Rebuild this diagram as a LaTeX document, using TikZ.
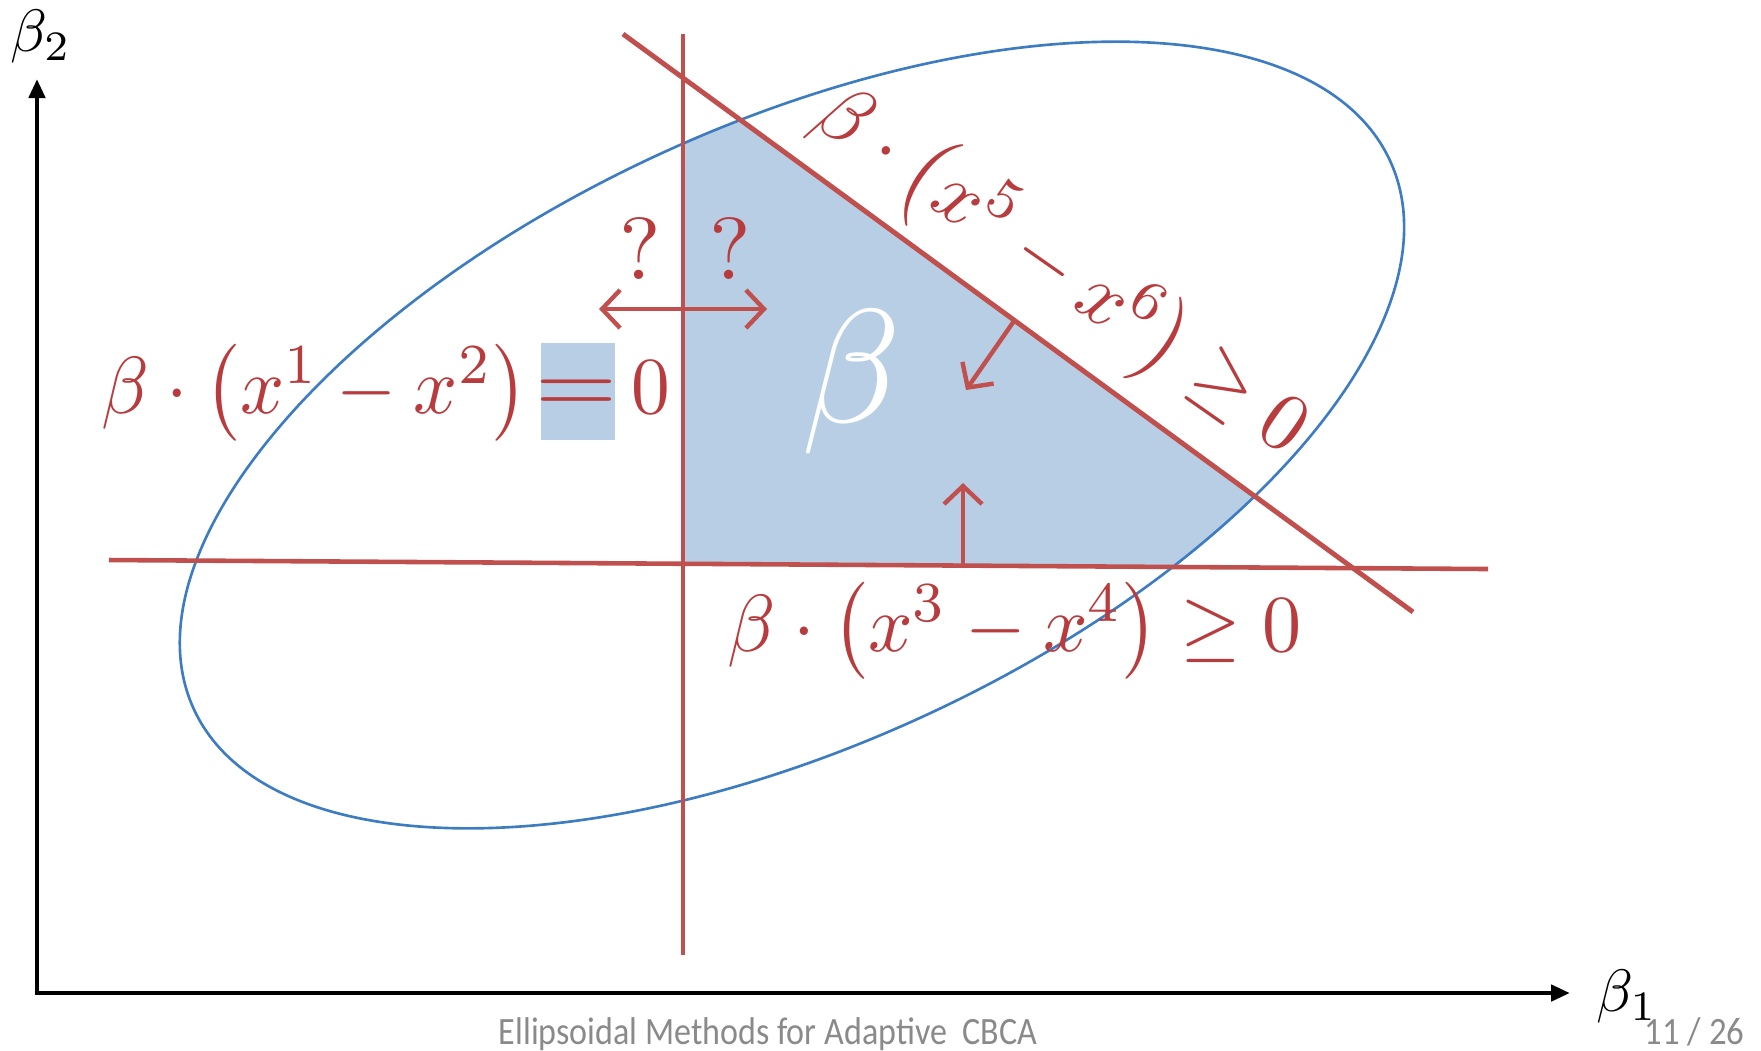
\documentclass[tikz,border=0pt]{standalone}
\usepackage{fontspec}
\usepackage{graphicx}
\newfontfamily\footfont{Carlito}
\usetikzlibrary{arrows.meta}
\definecolor{redline}{HTML}{C0504D}
\definecolor{redtext}{HTML}{B83B3D}
\definecolor{ellblue}{HTML}{3E7CC2}
\definecolor{regblue}{HTML}{B8CEE4}
\definecolor{footgray}{HTML}{8A8A8A}
\begin{document}
\begin{tikzpicture}[x=0.01cm,y=-0.01cm,
  redln/.style={draw=redline,line width=1.3pt},
  barb/.tip={Straight Barb[length=1.8mm,width=3.8mm]},
  redarrow/.style={draw=redline,line width=1.25pt,line cap=round,-barb},
  lbl/.style={text=redtext,inner sep=0pt},
]
\useasboundingbox (0,0) rectangle (1761,1050);

\coordinate (ec) at (792,435);
\coordinate (vTop) at (683,34);
\coordinate (vBot) at (683,955);
\coordinate (hL) at (109,560);
\coordinate (hR) at (1488,569);
\coordinate (dTop) at (623,34);
\coordinate (dBot) at (1413,612);
\coordinate (pA) at (683,563.7);
\coordinate (pB) at (683,77.9);
\coordinate (pC) at (1353,568.1);

% feasible region
\begin{scope}
\clip[rotate around={24.6:(ec)}] (ec) ellipse [x radius=658, y radius=310.5];
\fill[regblue] (pA) -- (pB) -- (pC) -- cycle;
\end{scope}

% ellipse
\draw[ellblue,line width=0.75pt,rotate around={24.6:(ec)}] (ec) ellipse [x radius=658, y radius=310.5];

% constraint lines
\draw[redln,line width=1pt] (vTop) -- (vBot);
\draw[redln] (hL) -- (hR);
\draw[redln,line width=1.4pt] (dTop) -- (dBot);

% axes
\coordinate (O) at (37,993);
\coordinate (yTip) at (37,79);
\coordinate (xTip) at (1570,993);
\draw[line width=1.3pt,{Triangle[length=1.9mm,width=1.6mm]}-{Triangle[length=1.9mm,width=1.6mm]}] (yTip) -- (O) -- (xTip);

% arrows
\coordinate (hArrL) at (599,309);
\coordinate (hArrR) at (767,309);
\draw[redarrow,barb-barb] (hArrL) -- (hArrR);
\coordinate (dArrS) at (1014,321);
\coordinate (dArrE) at (966,390);
\draw[redarrow] (dArrS) -- (dArrE);
\coordinate (uArrS) at (963,566);
\coordinate (uArrE) at (963,483);
\draw[redarrow] (uArrS) -- (uArrE);

% labels
\node[fill=regblue,inner sep=0pt,minimum width=0.74cm,minimum height=0.97cm] (eqbox) at (578,391.5) {};
\node[lbl,anchor=base] (eqsign) at (577,413) {\scalebox{3.0}[2.6]{$=$}};
\node[lbl,anchor=base east] (eq12) at (529,413) {\scalebox{2.2}[2.3]{$\beta\cdot\bigl(x^1-x^2\bigr)$}};
\node[lbl,anchor=base west] (eqzero) at (631,413) {\scalebox{2.2}[2.3]{$0$}};
\node[lbl,anchor=base west] (eq34) at (727,651) {\scalebox{2.22}[2.3]{$\beta\cdot\bigl(x^3-x^4\bigr)\geq0$}};
\node[lbl,rotate=-35] (eq56) at (1060,273) {\scalebox{2.24}[2.35]{$\beta\cdot\bigl(x^5-x^6\bigr)\geq0$}};
\node[lbl,anchor=base] (q1) at (640,279) {\scalebox{2.5}{?}};
\node[lbl,anchor=base] (q2) at (730,279) {\scalebox{2.5}{?}};
\node[text=white,inner sep=0pt] (bigbeta) at (852,382) {\scalebox{4.6}{$\beta$}};
\node[inner sep=0pt] (b2) at (41,37) {\scalebox{1.7}{$\beta_2$}};
\node[inner sep=0pt] (b1) at (1627,997) {\scalebox{1.7}{$\beta_1$}};

% footer
\node[text=footgray,inner sep=0pt,anchor=base,font=\footfont\fontsize{11}{13}\selectfont] (foot) at (768,1044) {\scalebox{0.88}[1]{Ellipsoidal Methods for Adaptive\ \ CBCA}};
\node[text=footgray,inner sep=0pt,anchor=base east,font=\footfont\fontsize{11}{13}\selectfont] (pg) at (1745,1044) {\scalebox{0.9}[1]{11 / 26}};
\end{tikzpicture}
\end{document}
